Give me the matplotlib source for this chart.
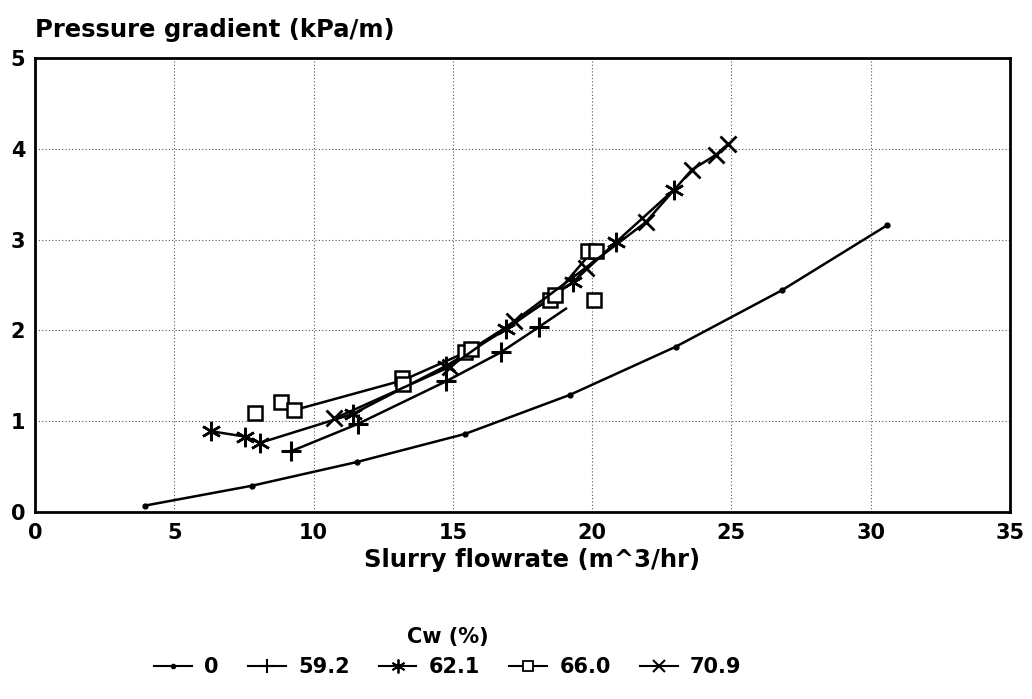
import matplotlib
matplotlib.use("Agg")
import matplotlib.pyplot as plt
from matplotlib.lines import Line2D

plt.rcParams['font.family'] = ['DejaVu Sans']
plt.rcParams['font.weight'] = 'bold'

# ---- data ----
series_labels = ["0", "59.2", "62.1", "66.0", "70.9"]

# Cw = 0 (water)
x_0 = [3.94, 7.80, 11.55, 15.44, 19.2, 23.0, 26.8, 30.6]
y_0 = [0.07, 0.29, 0.55, 0.86, 1.29, 1.82, 2.44, 3.16]

# Cw = 59.2 %
x_592 = [9.2, 11.59, 14.76, 16.73, 18.1]
y_592 = [0.67, 0.97, 1.44, 1.76, 2.04]
curve_x_592 = [9.2, 11.59, 14.76, 16.73, 18.1, 19.06]
curve_y_592 = [0.67, 0.97, 1.44, 1.76, 2.04, 2.24]

# Cw = 62.1 %
x_621 = [6.31, 7.55, 8.06, 11.41, 14.76, 16.9, 19.3, 20.85, 22.94]
y_621 = [0.89, 0.83, 0.76, 1.08, 1.61, 2.01, 2.53, 2.97, 3.55]

# Cw = 66.0 %
x_660 = [7.9, 8.84, 9.28, 13.17, 13.2, 15.45, 15.65, 18.5, 18.65, 19.85, 20.15, 20.05]
y_660 = [1.09, 1.21, 1.12, 1.48, 1.41, 1.76, 1.79, 2.33, 2.39, 2.87, 2.87, 2.34]
curve_x_660 = [9.28, 13.2, 15.55, 18.58, 20.0]
curve_y_660 = [1.12, 1.45, 1.77, 2.36, 2.87]

# Cw = 70.9 %
x_709 = [10.75, 14.9, 17.2, 19.77, 21.92, 23.58, 24.43, 24.87]
y_709 = [1.03, 1.60, 2.10, 2.69, 3.19, 3.77, 3.93, 4.05]

x_ticks = [0, 5, 10, 15, 20, 25, 30, 35]
y_ticks = [0, 1, 2, 3, 4, 5]

# ---- figure ----
fig = plt.figure(figsize=(10.32, 6.99), dpi=100)
ax = fig.add_axes([35/1032, 1-512/699, 975/1032, 454/699])

lw = 1.8
col = 'black'

ax.plot(x_0, y_0, color=col, lw=lw, marker='o', ms=3.5)
ax.plot(curve_x_592, curve_y_592, color=col, lw=lw)
ax.plot(x_592, y_592, ls='none', marker='+', ms=14, mew=2.2, color=col)
ax.plot(x_621, y_621, color=col, lw=lw, marker=(6, 2, 0), ms=14, mew=1.8)
ax.plot(curve_x_660, curve_y_660, color=col, lw=lw)
ax.plot(x_660, y_660, ls='none', marker='s', ms=10, mew=1.8, mfc='white', mec=col)
ax.plot(x_709, y_709, color=col, lw=lw, marker='x', ms=12, mew=2.0)

ax.set_xlim(0, 35)
ax.set_ylim(0, 5)
ax.set_xticks(x_ticks)
ax.set_yticks(y_ticks)
ax.tick_params(length=0, labelsize=15, pad=8)
ax.tick_params(axis='y', pad=7)
for lab in ax.get_xticklabels() + ax.get_yticklabels():
    lab.set_fontweight('bold')
ax.grid(True, ls=(0, (1, 2)), lw=0.8, color='#555555')
for s in ax.spines.values():
    s.set_linewidth(2)
    s.set_color('black')

fig.text(35/1032, 1-30/699, 'Pressure gradient (kPa/m)', ha='left', va='center',
         fontsize=17.5, fontweight='bold')
fig.text(532/1032, 1-560/699, 'Slurry flowrate (m^3/hr)', ha='center', va='center',
         fontsize=17.5, fontweight='bold')

handles = [
    Line2D([], [], color=col, lw=1.5, marker='o', ms=3),
    Line2D([], [], color=col, lw=1.5, marker='+', ms=10, mew=1.5),
    Line2D([], [], color=col, lw=1.5, marker=(6, 2, 0), ms=10, mew=1.3),
    Line2D([], [], color=col, lw=1.5, marker='s', ms=7, mew=1.3, mfc='white'),
    Line2D([], [], color=col, lw=1.5, marker='x', ms=8, mew=1.5),
]
leg = fig.legend(handles, series_labels, loc='center', ncol=5,
                 bbox_to_anchor=(448/1032, 1-652/699), frameon=False,
                 fontsize=15, title='Cw (%)', title_fontsize=15,
                 handlelength=1.8, columnspacing=1.4, handletextpad=0.6)
leg.get_title().set_fontweight('bold')
for t in leg.get_texts():
    t.set_fontweight('bold')

fig.savefig('out.png', dpi=100)
